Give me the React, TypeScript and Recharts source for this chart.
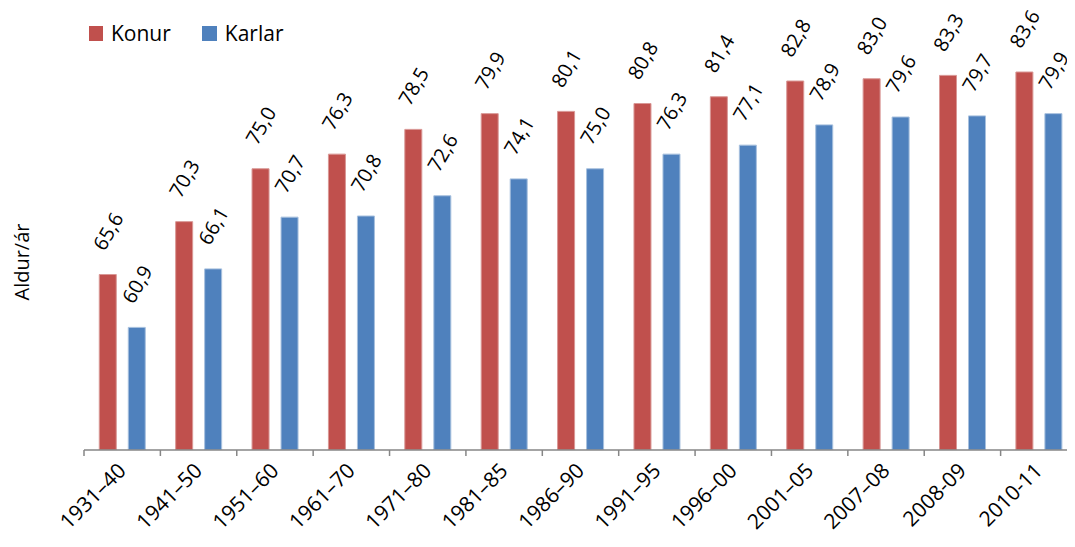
import React from "react";
import { BarChart, Bar, XAxis, YAxis, LabelList } from "recharts";

const categories = ["1931–40", "1941–50", "1951–60", "1961–70", "1971–80", "1981–85", "1986–90", "1991–95", "1996–00", "2001–05", "2007–08", "2008-09", "2010-11"];
const konur = [65.6, 70.3, 75.0, 76.3, 78.5, 79.9, 80.1, 80.8, 81.4, 82.8, 83.0, 83.3, 83.6];
const karlar = [60.9, 66.1, 70.7, 70.8, 72.6, 74.1, 75.0, 76.3, 77.1, 78.9, 79.6, 79.7, 79.9];

const data = categories.map((c, i) => ({ name: c, Konur: konur[i], Karlar: karlar[i] }));

const RED = "#C0504D";
const BLUE = "#4F81BD";
const FONT = "'Open Sans', sans-serif";
const N = categories.length;

const fmt = (v: number) => v.toFixed(1).replace(".", ",");

const ValueLabel = (props: any) => {
  const vb = props.viewBox && typeof props.viewBox.y === "number" ? props.viewBox : props;
  const { x, y, width } = vb;
  const cx = x + width / 2 + 0.5;
  const cy = y - 43;
  return (
    <text
      x={cx}
      y={cy}
      dy="0.35em"
      transform={`rotate(-60 ${cx} ${cy})`}
      textAnchor="middle"
      fontFamily={FONT}
      fontSize={20}
      fill="#000"
    >
      {fmt(props.value)}
    </text>
  );
};

const Tick = (props: any) => {
  const { x, y, payload, index } = props;
  const half = payload && payload.offset ? payload.offset : 38.3;
  const ty = y;
  const lx = x + 5;
  const ly = ty + 22;
  return (
    <g>
      <line x1={x - half} x2={x - half} y1={ty} y2={ty + 6} stroke="#868686" strokeWidth={1.5} />
      {index === N - 1 ? (
        <line x1={x + half} x2={x + half} y1={ty} y2={ty + 6} stroke="#868686" strokeWidth={1.5} />
      ) : null}
      <text
        x={lx}
        y={ly}
        transform={`rotate(-45 ${lx} ${ly})`}
        textAnchor="end"
        fontFamily={FONT}
        fontSize={21}
        fill="#000"
      >
        {payload.value}
      </text>
    </g>
  );
};

export default function App() {
  return (
    <div style={{ margin: -8, width: 1075, height: 547, overflow: "hidden", position: "relative", background: "#fff" }}>
      <BarChart
        width={1078}
        height={547}
        data={data}
        margin={{ top: 0, right: 1, bottom: 0, left: 84 }}
        barCategoryGap="20%"
        barGap={12}
      >
        <XAxis
          dataKey="name"
          axisLine={{ stroke: "#868686", strokeWidth: 1.5 }}
          tickLine={false}
          tickSize={0}
          tickMargin={0}
          interval={0}
          tick={<Tick />}
          height={97}
        />
        <YAxis hide domain={[50, 90]} allowDataOverflow />
        <Bar dataKey="Konur" fill={RED} stroke="#D99795" strokeWidth={1} isAnimationActive={false}>
          <LabelList dataKey="Konur" content={<ValueLabel />} />
        </Bar>
        <Bar dataKey="Karlar" fill={BLUE} stroke="#A7C0DE" strokeWidth={1} isAnimationActive={false}>
          <LabelList dataKey="Karlar" content={<ValueLabel />} />
        </Bar>
      </BarChart>
      <div
        style={{
          position: "absolute",
          top: 21,
          left: 89,
          display: "flex",
          alignItems: "center",
          fontFamily: FONT,
          fontSize: 21,
          color: "#000",
          lineHeight: "24px",
        }}
      >
        <span style={{ display: "inline-block", width: 14, height: 15, background: RED, marginRight: 8 }} />
        <span style={{ marginRight: 31 }}>Konur</span>
        <span style={{ display: "inline-block", width: 15, height: 15, background: BLUE, marginRight: 8 }} />
        <span>Karlar</span>
      </div>
      <div
        style={{
          position: "absolute",
          left: 21,
          top: 262,
          transform: "translate(-50%, -50%) rotate(-90deg)",
          fontFamily: FONT,
          fontSize: 20,
          whiteSpace: "nowrap",
          color: "#000",
        }}
      >
        Aldur/ár
      </div>
    </div>
  );
}
